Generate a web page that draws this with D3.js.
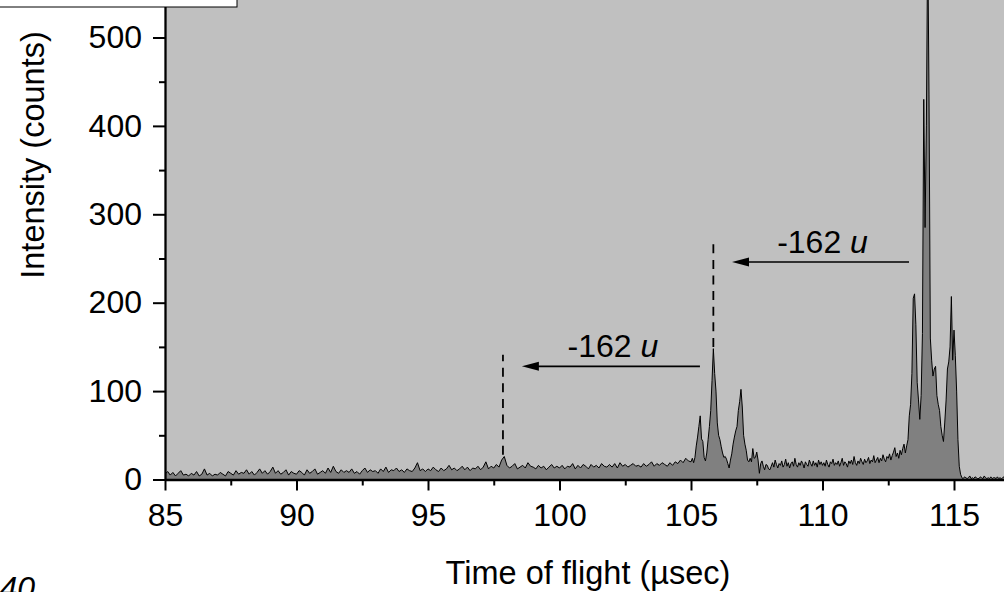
<!DOCTYPE html>
<html>
<head>
<meta charset="utf-8">
<script src="https://cdn.jsdelivr.net/npm/d3@7"></script>
<style>
  html, body { margin: 0; padding: 0; background: #fff; }
  svg { display: block; }
  text { font-family: "Liberation Sans", Arial, Helvetica, sans-serif; fill: #000; }
</style>
</head>
<body>
<svg id="chart" width="1004" height="592"></svg>
<script>
// Time-of-flight spectrum (counts per channel)
// Coarse channels: 85.0 .. 104.9 µs, 0.1 µs apart
const coarseStart = 85.0;
const coarseStep = 0.1;
const coarseCounts = [
  6,9,5,8,4,7,10,5,6,4,
  7,5,9,4,6,12,5,7,4,6,
  5,8,6,4,9,7,5,10,6,8,
  7,11,6,9,5,8,12,7,10,6,
  9,14,7,10,6,8,11,5,9,7,
  6,10,8,5,11,7,9,12,6,8,
  10,7,13,8,15,9,7,11,8,10,
  8,12,7,9,6,10,13,8,11,9,
  10,7,12,9,14,8,11,10,13,9,
  11,8,12,10,9,13,19,10,12,9,
  12,10,14,11,9,13,10,12,16,11,
  13,10,12,15,11,14,10,13,12,15,
  11,14,20,12,15,13,17,14,22,26,
  16,13,15,18,12,14,16,13,19,15,
  14,12,16,13,15,11,14,17,13,15,
  13,16,12,15,14,18,12,16,13,17,
  15,12,17,14,16,13,18,15,14,17,
  14,18,13,19,15,17,14,16,18,15,
  16,14,18,15,17,20,15,18,16,19,
  17,15,19,16,20,18,22,19,24,21
];

// Fine channels: 105.00 .. 117.00 µs, 0.05 µs apart
const fineStart = 105.0;
const fineStep = 0.05;
const fineCounts = [
  20,24,19,25,38,48,60,72,46,43,
  25,21,30,45,60,78,112,148,120,100,
  64,50,45,37,30,25,26,23,18,13,
  22,29,40,48,55,60,78,88,102,82,
  50,40,33,22,20,24,20,35,24,25,
  31,22,7,18,21,15,11,17,16,12,
  11,
  15,19,14,22,17,13,18,16,21,14,
  17,23,15,19,13,18,20,15,24,17,
  14,19,16,21,18,13,20,17,15,22,
  18,15,21,16,19,14,22,17,20,16,
  19,15,22,17,14,20,18,23,16,19,
  17,21,15,19,24,16,20,18,14,21,
  18,22,17,26,19,16,21,18,24,20,
  17,23,19,21,25,18,22,20,27,19,
  22,25,19,24,21,28,23,20,26,
  24,29,22,27,31,36,26,30,24,33,
  28,35,40,30,38,45,
  72,85,120,205,210,175,110,90,68,95,
  165,430,285,400,620,435,160,135,117,125,
  128,95,85,78,60,50,43,65,90,125,
  133,150,207,135,169,140,100,45,15,6,
  2,
  1,3,2,1,2,4,1,2,1,3,
  2,1,1,3,2,1,4,2,1,2,
  1,3,1,2,2,1,3,1,2,1,
  2,3,1,2
];

// Axis ticks
const xTicks = [85, 90, 95, 100, 105, 110, 115];
const xMinorTicks = [87.5, 92.5, 97.5, 102.5, 107.5, 112.5];
const yTicks = [0, 100, 200, 300, 400, 500];
const yMinorTicks = [50, 150, 250, 350, 450];

// Mass-shift annotations: arrow from a peak to the marked position
const shiftLabel = "-162 ";
const shiftUnit = "u";
const arrowFrom = [113.29, 105.34];
const arrowTo = [106.56, 98.57];
const arrowLevel = [246, 128];
const markerTime = [105.85, 97.85];
const markerTop = [268, 141];
const markerBottom = [150, 28];

const xAxisTitle = "Time of flight (µsec)";
const yAxisTitle = "Intensity (counts)";
const cornerLabel = "40";

// ---- build the series
const spectrum = [];
coarseCounts.forEach((c, i) => spectrum.push({ t: coarseStart + i * coarseStep, c }));
fineCounts.forEach((c, i) => spectrum.push({ t: fineStart + i * fineStep, c }));

const svg = d3.select("#chart");
const W = 1004, H = 592;

const x = d3.scaleLinear().domain([85, 117]).range([165, 165 + 32 * 26.3]);
const y = d3.scaleLinear().domain([0, 542.4]).range([479.5, 0]);

const plotLeft = x(85), plotBottom = y(0);

// plot background
svg.append("rect")
  .attr("x", plotLeft).attr("y", 0)
  .attr("width", W - plotLeft).attr("height", plotBottom)
  .attr("fill", "#c0c0c0");

svg.append("clipPath").attr("id", "plotClip")
  .append("rect")
  .attr("x", plotLeft).attr("y", 0)
  .attr("width", W - plotLeft).attr("height", plotBottom);

const plot = svg.append("g").attr("clip-path", "url(#plotClip)");

const area = d3.area().x(d => x(d.t)).y0(y(0)).y1(d => y(d.c));
const line = d3.line().x(d => x(d.t)).y(d => y(d.c));

plot.append("path").datum(spectrum)
  .attr("d", area)
  .attr("fill", "#808080");

plot.append("path").datum(spectrum)
  .attr("d", line)
  .attr("fill", "none")
  .attr("stroke", "#000")
  .attr("stroke-width", 1)
  .attr("stroke-linejoin", "miter");

// dashed markers
markerTime.forEach((t, i) => {
  plot.append("line")
    .attr("x1", x(t)).attr("x2", x(t))
    .attr("y1", y(markerBottom[i])).attr("y2", y(markerTop[i]))
    .attr("stroke", "#000")
    .attr("stroke-width", 1.8)
    .attr("stroke-dasharray", "9,6.6");
});

// arrows with labels
arrowFrom.forEach((t0, i) => {
  const x0 = x(t0), x1 = x(arrowTo[i]), yy = y(arrowLevel[i]);
  const headLen = 17, headHalf = 4.5;
  plot.append("line")
    .attr("x1", x0).attr("x2", x1 + headLen - 2)
    .attr("y1", yy).attr("y2", yy)
    .attr("stroke", "#000").attr("stroke-width", 1.6);
  plot.append("path")
    .attr("d", `M${x1},${yy} L${x1 + headLen},${yy - headHalf} L${x1 + headLen},${yy + headHalf} Z`)
    .attr("fill", "#000");
  const label = plot.append("text")
    .attr("x", (x0 + x1) / 2 + 2)
    .attr("y", yy - 9)
    .attr("text-anchor", "middle")
    .style("font-size", "32px");
  label.append("tspan").text(shiftLabel);
  label.append("tspan").style("font-style", "italic").text(shiftUnit);
});

// axes
const axisStyle = g => {
  g.select(".domain").attr("stroke", "#000").attr("stroke-width", 2.3);
  g.selectAll(".tick line").attr("stroke", "#000").attr("stroke-width", 2);
  g.selectAll(".tick text").style("font-size", "32px").attr("fill", "#000")
    .style("font-family", "'Liberation Sans', Arial, sans-serif");
};

svg.append("g")
  .attr("transform", `translate(0,${plotBottom})`)
  .call(d3.axisBottom(x).tickValues(xMinorTicks).tickSize(6).tickFormat(""))
  .call(g => { g.select(".domain").remove(); g.selectAll(".tick line").attr("stroke", "#000").attr("stroke-width", 2); });

svg.append("g")
  .attr("transform", `translate(${plotLeft},0)`)
  .call(d3.axisLeft(y).tickValues(yMinorTicks).tickSize(6).tickFormat(""))
  .call(g => { g.select(".domain").remove(); g.selectAll(".tick line").attr("stroke", "#000").attr("stroke-width", 2); });

svg.append("g")
  .attr("transform", `translate(0,${plotBottom})`)
  .call(d3.axisBottom(x).tickValues(xTicks).tickSize(11).tickPadding(13).tickSizeOuter(0).tickFormat(d3.format("d")))
  .call(axisStyle);

svg.append("g")
  .attr("transform", `translate(${plotLeft},0)`)
  .call(d3.axisLeft(y).tickValues(yTicks).tickSize(12).tickPadding(11).tickSizeOuter(0).tickFormat(d3.format("d")))
  .call(axisStyle);

// axis titles
svg.append("text")
  .attr("x", 588).attr("y", 584)
  .attr("text-anchor", "middle")
  .style("font-size", "32.5px")
  .text(xAxisTitle);

svg.append("text")
  .attr("transform", "translate(44,155) rotate(-90)")
  .attr("text-anchor", "middle")
  .style("font-size", "32.5px")
  .text(yAxisTitle);

// legend frame in the upper-left corner
svg.append("rect")
  .attr("x", -1).attr("y", -1)
  .attr("width", 238).attr("height", 8)
  .attr("fill", "#fff").attr("stroke", "#000").attr("stroke-width", 1);

// corner label
svg.append("text")
  .attr("x", 35).attr("y", 599)
  .attr("text-anchor", "end")
  .style("font-size", "32px")
  .style("font-style", "italic")
  .text(cornerLabel);
</script>
</body>
</html>
